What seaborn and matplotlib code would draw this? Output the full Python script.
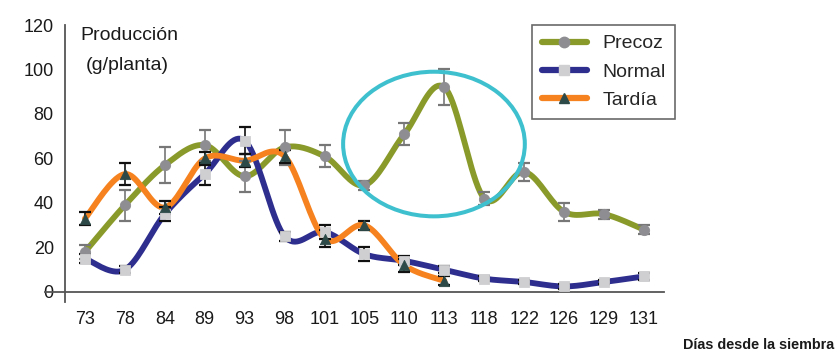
import numpy as np
import matplotlib
matplotlib.use("Agg")
import matplotlib.pyplot as plt
from matplotlib.patches import Ellipse
from matplotlib.lines import Line2D
import seaborn as sns
import pandas as pd

dias = ["73", "78", "84", "89", "93", "98", "101", "105", "110", "113", "118", "122", "126", "129", "131"]
precoz = [18, 39, 57, 66, 52, 65, 61, 48, 71, 92, 42, 54, 36, 35, 28]
precoz_err = [3, 7, 8, 7, 7, 8, 5, 2, 5, 8, 3, 4, 4, 2, 2]
normal = [15, 10, 35, 53, 68, 25, 27, 17, 14, 10, 6, 4.5, 2.5, 4.5, 7]
normal_err = [2, 1.5, 3, 5, 6, 2, 3, 3, 2, 1.5, 1, 1, 1, 1, 1.5]
tardia = [33, 53, 38, 60, 59, 61, 24, 30, 12, 5]
tardia_err = [3, 5, 3, 3, 3, 3, 4, 2, 3, 2]

sns.set_style("white")
plt.rcParams['font.family'] = ['Liberation Sans', 'DejaVu Sans']

fig = plt.figure(figsize=(8.4, 3.52), dpi=100)
ax = fig.add_axes([45/840, 1-302/352, (664-45)/840, (302-25)/352])

def smooth(y, n=20):
    y = np.asarray(y, float)
    x = np.arange(len(y), dtype=float)
    P = np.column_stack([x, y])
    Pe = np.vstack([P[0], P, P[-1]])
    out = []
    for i in range(len(P) - 1):
        p0, p1, p2, p3 = Pe[i], Pe[i+1], Pe[i+2], Pe[i+3]
        c1 = p1 + (p2 - p0) / 6
        c2 = p2 - (p3 - p1) / 6
        t = np.linspace(0, 1, n)[:, None]
        seg = (1-t)**3*p1 + 3*(1-t)**2*t*c1 + 3*(1-t)*t**2*c2 + t**3*p2
        out.append(seg if i == 0 else seg[1:])
    s = np.vstack(out)
    return s[:, 0], s[:, 1]

series = [
    ("Precoz", precoz, precoz_err, "#8a9a2a", "o", "#8e8e92", "#8e8e92", "#777777"),
    ("Normal", normal, normal_err, "#2e2e8f", "s", "#cfcfd2", "#cfcfd2", "#111111"),
    ("Tardía", tardia, tardia_err, "#f5821f", "^", "#2d4a48", "#2d4a48", "#111111"),
]

handles = []
for name, vals, err, col, mk, mfc, mec, ecol in series:
    xs, ys = smooth(vals)
    ax.plot(xs, ys, color=col, lw=4.2, solid_capstyle="round", zorder=2)
    x = np.arange(len(vals))
    ax.errorbar(x, vals, yerr=err, fmt="none", ecolor=ecol, elinewidth=1.2,
                capsize=4, capthick=1.6, zorder=3)
    df = pd.DataFrame({"x": x, "y": vals})
    sns.scatterplot(data=df, x="x", y="y", marker=mk, color=mfc, edgecolor=mec,
                    s=55, ax=ax, zorder=4, legend=False)
    handles.append(Line2D([0], [0], color=col, lw=4.5, marker=mk, markersize=7.5,
                          markerfacecolor=mfc, markeredgecolor=mec, label=name))

ax.add_patch(Ellipse((8.74, 66.5), 4.55, 65, fill=False, edgecolor="#3ec0cf", lw=2.9, zorder=5))

ax.set_xlim(-1.0, 14.5)
ax.set_ylim(-4.5, 120)
ax.spines["left"].set_position(("data", -0.5))
ax.spines["bottom"].set_position(("data", 0))
for s in ["top", "right"]:
    ax.spines[s].set_visible(False)
for s in ["left", "bottom"]:
    ax.spines[s].set_color("#555555")
    ax.spines[s].set_linewidth(1.3)

ax.set_xticks(range(len(dias)))
ax.set_xticklabels(dias)
ax.set_xticks(np.arange(0.5, len(dias), 1), minor=True)
ax.tick_params(axis="x", which="major", length=0, pad=14, labelsize=13, labelcolor="#1a1a1a")
ax.tick_params(axis="x", which="minor", length=5, width=1.2, color="#555555", direction="out")
ax.set_yticks([0, 20, 40, 60, 80, 100, 120])
ax.tick_params(axis="y", length=5, width=1.2, color="#555555", labelsize=13, labelcolor="#1a1a1a", pad=3)
ax.set_xlabel("")
ax.set_ylabel("")

fig.text(80/840, 1-36/352, "Producción", fontsize=14, va="center", ha="left", color="#1a1a1a")
fig.text(86/840, 1-65/352, "(g/planta)", fontsize=14, va="center", ha="left", color="#1a1a1a")
fig.text(683/840, 1-345/352, "Días desde la siembra", fontsize=10.4, va="center", ha="left",
         color="#1a1a1a", fontweight="bold")

leg = ax.legend(handles=handles, loc="upper left", bbox_to_anchor=(0.787, 1.0),
                fontsize=14, frameon=True, fancybox=False, edgecolor="#444444",
                handlelength=2.3, handletextpad=0.8, borderpad=0.5, labelspacing=0.55,
                borderaxespad=0.0)
leg.get_frame().set_linewidth(1.2)

fig.savefig("out.png", dpi=100, facecolor="white")
